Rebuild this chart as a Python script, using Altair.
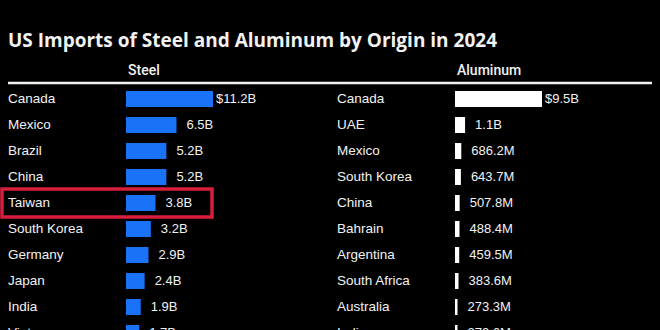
import altair as alt
import pandas as pd

TITLE = "US Imports of Steel and Aluminum by Origin in 2024"

steel_countries = ["Canada", "Mexico", "Brazil", "China", "Taiwan",
                   "South Korea", "Germany", "Japan", "India", "Vietnam"]
steel_values_b = [11.2, 6.5, 5.2, 5.2, 3.8, 3.2, 2.9, 2.4, 1.9, 1.7]
steel_labels = ["$11.2B", "6.5B", "5.2B", "5.2B", "3.8B",
                "3.2B", "2.9B", "2.4B", "1.9B", "1.7B"]

alu_countries = ["Canada", "UAE", "Mexico", "South Korea", "China",
                 "Bahrain", "Argentina", "South Africa", "Australia", "India"]
alu_values_m = [9500, 1100, 686.2, 643.7, 507.8, 488.4, 459.5, 383.6, 273.3, 270.6]
alu_labels = ["$9.5B", "1.1B", "686.2M", "643.7M", "507.8M",
              "488.4M", "459.5M", "383.6M", "273.3M", "270.6M"]

highlight = "Taiwan"

BG = "#000000"
FG = "#f2f2f2"
STEEL_BLUE = "#1a72f6"
ALU_WHITE = "#ffffff"
RED = "#d81e3c"
LABEL_FONT = "Liberation Sans"

W = 644          # plot width (x 8 .. 652)
H = 244          # visible plot height (rows continue below the window)
COL2 = 329       # left edge of the aluminum column
BAR0 = 118       # bar origin inside each column
BARLEN = 87      # length of the longest bar

yenc = alt.Y("rank:O", axis=None,
             scale=alt.Scale(range=[0, 260], paddingInner=0.385, paddingOuter=0.1925))


def panel_layers(countries, values, labels, color, header, x0, with_box=False):
    df = pd.DataFrame({"country": countries, "value": values, "label": labels,
                       "rank": list(range(len(countries)))})
    base = alt.Chart(df)
    xscale = alt.Scale(domain=[0, max(values)], range=[x0 + BAR0, x0 + BAR0 + BARLEN],
                       nice=False, zero=True)
    xenc = alt.X("value:Q", scale=xscale, axis=None)

    bars = base.mark_bar(color=color, clip=True).encode(x=xenc, y=yenc)
    names = base.mark_text(align="left", baseline="middle", color=FG,
                           font=LABEL_FONT, fontSize=13.5, clip=True).encode(
        x=alt.value(x0), y=yenc, text="country:N")
    lab_dollar = base.transform_filter("indexof(datum.label, '$') == 0").mark_text(
        align="left", baseline="middle", color=FG, font=LABEL_FONT, fontSize=13,
        dx=3, clip=True).encode(x=xenc, y=yenc, text="label:N")
    lab_plain = base.transform_filter("indexof(datum.label, '$') != 0").mark_text(
        align="left", baseline="middle", color=FG, font=LABEL_FONT, fontSize=13,
        dx=10, clip=True).encode(x=xenc, y=yenc, text="label:N")
    head = base.transform_filter("datum.rank == 0").mark_text(
        align="left", baseline="alphabetic", color=FG, font="Roboto",
        fontWeight=500, fontSize=14).encode(
        x=alt.value(x0 + BAR0 + 2), y=alt.value(-11), text=alt.value(header))

    layers = [bars, names, lab_dollar, lab_plain, head]
    if with_box:
        box = base.transform_filter(alt.datum.country == highlight).mark_rect(
            filled=False, stroke=RED, strokeWidth=3.5, height={"band": 1.75}).encode(
            x=alt.value(-6), x2=alt.value(204), y=yenc)
        layers.append(box)
    return layers, base


steel_layers, steel_base = panel_layers(steel_countries, steel_values_b, steel_labels,
                                        STEEL_BLUE, "Steel", 0, with_box=True)
alu_layers, _ = panel_layers(alu_countries, alu_values_m, alu_labels,
                             ALU_WHITE, "Aluminum", COL2)

rule = steel_base.transform_filter("datum.rank == 0").mark_rule(
    color=FG, strokeWidth=2.5).encode(x=alt.value(0), x2=alt.value(W), y=alt.value(-3))

chart = alt.layer(rule, *steel_layers, *alu_layers).resolve_scale(
    x="independent"
).properties(
    width=W, height=H,
    title=alt.TitleParams(TITLE, anchor="start", frame="group", font="Open Sans",
                          fontWeight="bold", fontSize=19, color=FG, offset=13),
    background=BG,
    padding={"left": 8, "top": 86, "right": 8, "bottom": 0},
    autosize=alt.AutoSizeParams(type="none"),
).configure_view(stroke=None)

chart.save("out.html", embed_options={"renderer": "svg", "actions": False})
